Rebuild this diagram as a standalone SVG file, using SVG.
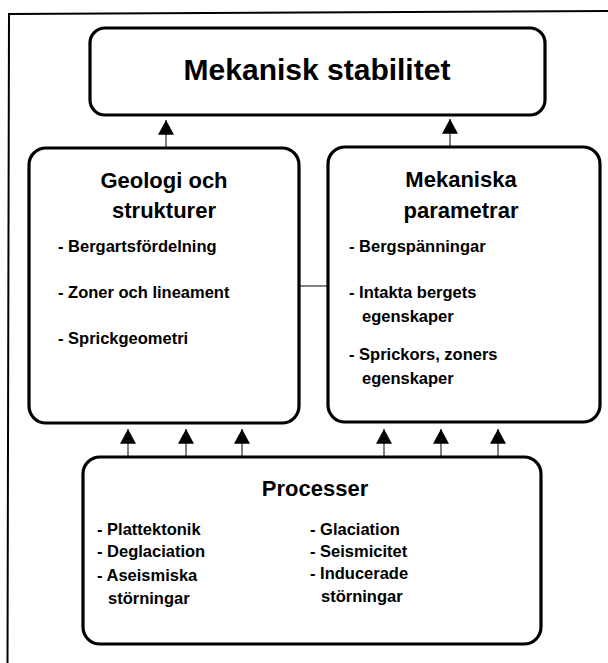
<svg xmlns="http://www.w3.org/2000/svg" width="608" height="663" viewBox="0 0 608 663">
  <style>
    .frame { fill: none; stroke: #000; stroke-width: 2; }
    .box { fill: #fff; stroke: #000; stroke-width: 3.2; }
    .title { font-family: "Liberation Sans", Arial, sans-serif; font-weight: bold; font-size: 30px; text-anchor: middle; fill: #000; }
    .head { font-family: "Liberation Sans", Arial, sans-serif; font-weight: bold; font-size: 22px; text-anchor: middle; fill: #000; }
    .item { font-family: "Liberation Sans", Arial, sans-serif; font-weight: bold; font-size: 16.5px; fill: #000; }
    .link { fill: none; stroke: #000; stroke-width: 1; }
  </style>
  <defs>
    <marker id="arrow" markerUnits="userSpaceOnUse" markerWidth="16" markerHeight="16" viewBox="0 0 14 14" refX="13" refY="7" orient="auto">
      <path d="M0,0 L13,7 L0,14 Z" fill="#000"/>
    </marker>
  </defs>

  <rect width="608" height="663" fill="#fff"/>

  <!-- outer frame (top and left edges) -->
  <path class="frame" d="M608,11 L9,14 L7.5,663"/>

  <!-- connectors -->
  <g id="connectors">
    <line class="link" x1="166" y1="148" x2="166" y2="120" marker-end="url(#arrow)"/>
    <line class="link" x1="450" y1="147" x2="450" y2="119" marker-end="url(#arrow)"/>
    <line class="link" x1="299" y1="286" x2="328" y2="286"/>
    <line class="link" x1="128" y1="457" x2="128" y2="429" marker-end="url(#arrow)"/>
    <line class="link" x1="186" y1="457" x2="186" y2="429" marker-end="url(#arrow)"/>
    <line class="link" x1="242" y1="457" x2="242" y2="429" marker-end="url(#arrow)"/>
    <line class="link" x1="384" y1="457" x2="384" y2="429" marker-end="url(#arrow)"/>
    <line class="link" x1="441" y1="457" x2="441" y2="429" marker-end="url(#arrow)"/>
    <line class="link" x1="498" y1="457" x2="498" y2="429" marker-end="url(#arrow)"/>
  </g>

  <!-- Mekanisk stabilitet -->
  <g id="stabilitet">
    <rect class="box" x="90" y="28" width="455" height="87" rx="15"/>
    <text class="title" x="317" y="80">Mekanisk stabilitet</text>
  </g>

  <!-- Geologi och strukturer -->
  <g id="geologi">
    <rect class="box" x="29" y="148" width="270" height="275" rx="17"/>
    <text class="head" x="164" y="188">Geologi och</text>
    <text class="head" x="164" y="218">strukturer</text>
    <text class="item" x="58" y="252">- Bergartsfördelning</text>
    <text class="item" x="58" y="298">- Zoner och lineament</text>
    <text class="item" x="58" y="344">- Sprickgeometri</text>
  </g>

  <!-- Mekaniska parametrar -->
  <g id="parametrar">
    <rect class="box" x="328" y="147" width="272" height="275" rx="17"/>
    <text class="head" x="461" y="187">Mekaniska</text>
    <text class="head" x="461" y="218">parametrar</text>
    <text class="item" x="349" y="252">- Bergspänningar</text>
    <text class="item" x="349" y="298">- Intakta bergets</text>
    <text class="item" x="362" y="322">egenskaper</text>
    <text class="item" x="349" y="360">- Sprickors, zoners</text>
    <text class="item" x="362" y="384">egenskaper</text>
  </g>

  <!-- Processer -->
  <g id="processer">
    <rect class="box" x="83" y="457" width="458" height="187" rx="17"/>
    <text class="head" x="315" y="496">Processer</text>
    <text class="item" x="97" y="535">- Plattektonik</text>
    <text class="item" x="97" y="557">- Deglaciation</text>
    <text class="item" x="97" y="581">- Aseismiska</text>
    <text class="item" x="108" y="604">störningar</text>
    <text class="item" x="310" y="535">- Glaciation</text>
    <text class="item" x="310" y="557">- Seismicitet</text>
    <text class="item" x="310" y="579">- Inducerade</text>
    <text class="item" x="321" y="602">störningar</text>
  </g>
</svg>
